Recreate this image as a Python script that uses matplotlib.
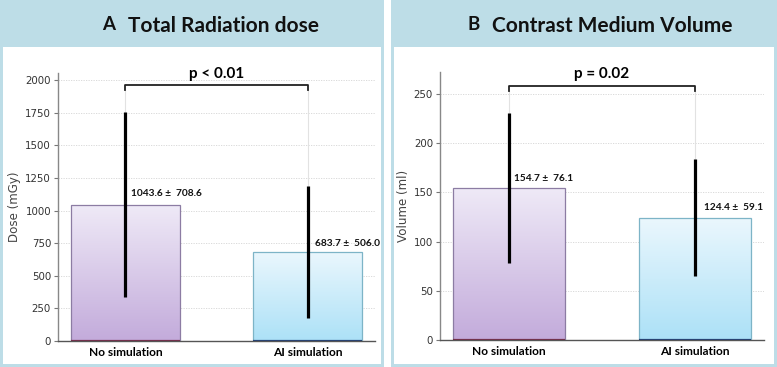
import matplotlib
matplotlib.use("Agg")
import matplotlib.pyplot as plt
import numpy as np
from matplotlib.patches import Rectangle
from matplotlib.colors import LinearSegmentedColormap

categories = ["No simulation", "AI simulation"]
dose_mean = [1043.6, 683.7]
dose_sd = [708.6, 506.0]
vol_mean = [154.7, 124.4]
vol_sd = [76.1, 59.1]
dose_ticks = [0, 250, 500, 750, 1000, 1250, 1500, 1750, 2000]
vol_ticks = [0, 50, 100, 150, 200, 250]
p_dose = "p < 0.01"
p_vol = "p = 0.02"

W, H = 777, 367
fig = plt.figure(figsize=(W / 100, H / 100), dpi=100)

BAND = "#bddde7"
TITLE_FONT = ["Lato", "DejaVu Sans"]


def px_rect(x0, y0, x1, y1, color, z=-2):
    # pixel coords from top-left
    fig.patches.append(Rectangle((x0 / W, 1 - y1 / H), (x1 - x0) / W, (y1 - y0) / H,
                                 transform=fig.transFigure, facecolor=color,
                                 edgecolor="none", zorder=z))


# panels
px_rect(0, 0, 384, 367, BAND, -3)
px_rect(3, 47, 381, 364, "white", -2)
px_rect(391, 0, 777, 367, BAND, -3)
px_rect(394, 47, 774, 364, "white", -2)

fig.text(109 / W, 1 - 25 / H, "A", fontsize=13.5, fontweight="bold", family=TITLE_FONT,
         ha="center", va="center", color="#111")
fig.text(128 / W, 1 - 26 / H, "Total Radiation dose", fontsize=15, fontweight="bold",
         family=TITLE_FONT, ha="left", va="center", color="#111")
fig.text(474 / W, 1 - 25 / H, "B", fontsize=13.5, fontweight="bold", family=TITLE_FONT,
         ha="center", va="center", color="#111")
fig.text(492 / W, 1 - 26 / H, "Contrast Medium Volume", fontsize=15, fontweight="bold",
         family=TITLE_FONT, ha="left", va="center", color="#111")

purple = LinearSegmentedColormap.from_list("p", ["#c3abdb", "#efeaf7"])
blue = LinearSegmentedColormap.from_list("b", ["#ace1f7", "#ebf7fd"])
cmaps = [purple, blue]
edges = ["#8c7ca3", "#7db4c7"]
bottoms = ["#7a2a4a", "#1f3f7a"]


def make_panel(rect, means, sds, ticks, ylim, ylabel, ptext, bracket_y, drop_y, ptext_y,
               lab_pos):
    ax = fig.add_axes(rect)
    x = np.arange(len(categories))
    bars = ax.bar(x, means, width=0.6, color="none", edgecolor="none", zorder=2)
    grad = np.linspace(0, 1, 256).reshape(-1, 1)
    for i, b in enumerate(bars):
        x0, w, h = b.get_x(), b.get_width(), b.get_height()
        im = ax.imshow(grad, cmap=cmaps[i], aspect="auto", origin="lower",
                       extent=[x0, x0 + w, 0, h], zorder=2)
        im.set_clip_path(b)
        ax.add_patch(Rectangle((x0, 0), w, h, facecolor="none", edgecolor=edges[i],
                               lw=0.9, zorder=3))
        ax.plot([x0, x0 + w], [0, 0], color=bottoms[i], lw=1.6, zorder=3,
                solid_capstyle="butt")
    ax.errorbar(x, means, yerr=sds, fmt="none", ecolor="black", elinewidth=2.3,
                capsize=0, zorder=5)
    # faint connectors
    for i in range(len(x)):
        ax.plot([x[i], x[i]], [means[i] + sds[i], drop_y], color="#e2e2e2", lw=0.8,
                zorder=1)
    # bracket
    ax.plot([x[0], x[0], x[1], x[1]], [drop_y, bracket_y, bracket_y, drop_y],
            color="#222", lw=1.3, zorder=6, clip_on=False)
    ax.text((x[0] + x[1]) / 2, ptext_y, ptext, ha="center", va="center",
            fontsize=11, fontweight="bold", family=TITLE_FONT, clip_on=False)
    for i in range(len(x)):
        lx, ly = lab_pos[i]
        ax.text(lx, ly, f"{means[i]:.1f} \u00b1  {sds[i]:.1f}", fontsize=7.3,
                fontweight="bold", family=TITLE_FONT, ha="left", va="center",
                color="#111", zorder=7)
    ax.set_xlim(-0.37, 1.37)
    ax.set_ylim(*ylim)
    ax.set_yticks(ticks)
    ax.set_xticks(x)
    ax.set_xticklabels(categories, fontsize=8.6, fontweight="bold", family=TITLE_FONT)
    ax.tick_params(axis="x", length=0, pad=4)
    ax.tick_params(axis="y", length=3, width=0.8, color="#777", labelsize=7.4,
                   labelcolor="#333", pad=2)
    ax.grid(axis="y", color="#d5d5d5", lw=0.6, ls=(0, (1.5, 1.5)), zorder=0)
    ax.set_axisbelow(True)
    for s in ["top", "right"]:
        ax.spines[s].set_visible(False)
    ax.spines["left"].set_color("#888")
    ax.spines["left"].set_linewidth(1.0)
    ax.spines["bottom"].set_color("#555")
    ax.spines["bottom"].set_linewidth(1.0)
    ax.spines["bottom"].set_zorder(4)
    ax.set_ylabel(ylabel, fontsize=8.6, color="#444", labelpad=3)
    ax.patch.set_alpha(0)
    return ax


axA = make_panel([58 / W, 26 / H, 317 / W, 268 / H], dose_mean, dose_sd, dose_ticks,
                 (0, 2054), "Dose (mGy)", p_dose, 1964, 1925, 2046,
                 [(0.03, 1130), (1.04, 745)])
axB = make_panel([440 / W, 26.7 / H, 324 / W, 268.3 / H], vol_mean, vol_sd, vol_ticks,
                 (0, 272), "Volume (ml)", p_vol, 258, 253, 270,
                 [(0.03, 164), (1.05, 135)])

fig.savefig("out.png", dpi=100)
